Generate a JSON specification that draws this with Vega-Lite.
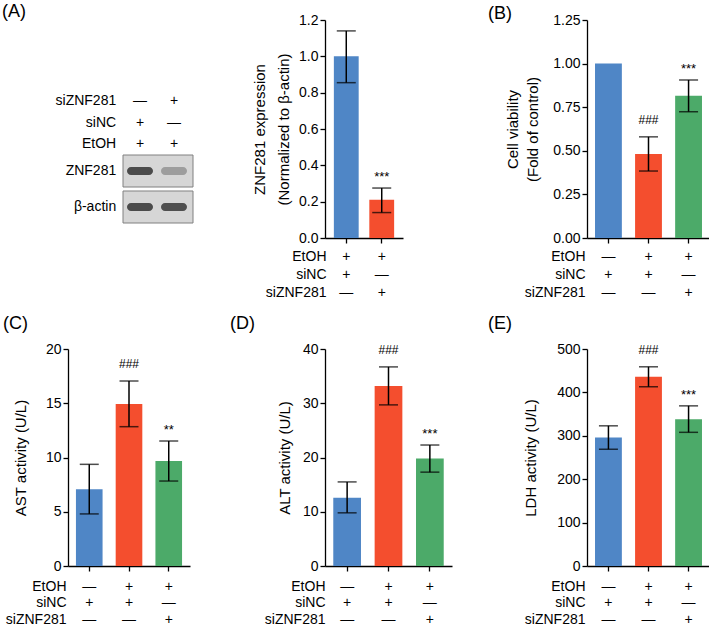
{
  "$schema": "https://vega.github.io/schema/vega-lite/v6.json",
  "padding": {"left": 2, "top": 3, "right": 0, "bottom": 0},
  "columns": 3,
  "align": "each",
  "spacing": {"row": 16, "column": 36},
  "datasets": {
    "blotHeader": [
      {"factor": "siZNF281", "lane": 1, "sym": "—"},
      {"factor": "siZNF281", "lane": 2, "sym": "+"},
      {"factor": "siNC", "lane": 1, "sym": "+"},
      {"factor": "siNC", "lane": 2, "sym": "—"},
      {"factor": "EtOH", "lane": 1, "sym": "+"},
      {"factor": "EtOH", "lane": 2, "sym": "+"}
    ],
    "blotFactors": [{"factor": "siZNF281"}, {"factor": "siNC"}, {"factor": "EtOH"}],
    "blotProteins": [{"protein": "ZNF281"}, {"protein": "β-actin"}],
    "blotBands": [
      {"protein": "ZNF281", "lane": 1, "intensity": 1.0},
      {"protein": "ZNF281", "lane": 2, "intensity": 0.35},
      {"protein": "β-actin", "lane": 1, "intensity": 1.0},
      {"protein": "β-actin", "lane": 2, "intensity": 0.97}
    ],
    "A": [
      {"treatment": "+|+|—", "mean": 1.0, "lo": 0.855, "hi": 1.14, "sig": ""},
      {"treatment": "+|—|+", "mean": 0.21, "lo": 0.14, "hi": 0.275, "sig": "***"}
    ],
    "B": [
      {"treatment": "—|+|—", "mean": 1.0, "lo": null, "hi": null, "sig": ""},
      {"treatment": "+|+|—", "mean": 0.482, "lo": 0.384, "hi": 0.58, "sig": "###"},
      {"treatment": "+|—|+", "mean": 0.816, "lo": 0.724, "hi": 0.906, "sig": "***"}
    ],
    "C": [
      {"treatment": "—|+|—", "mean": 7.07, "lo": 4.8, "hi": 9.37, "sig": ""},
      {"treatment": "+|+|—", "mean": 14.93, "lo": 12.84, "hi": 17.05, "sig": "###"},
      {"treatment": "+|—|+", "mean": 9.68, "lo": 7.83, "hi": 11.52, "sig": "**"}
    ],
    "D": [
      {"treatment": "—|+|—", "mean": 12.6, "lo": 9.8, "hi": 15.5, "sig": ""},
      {"treatment": "+|+|—", "mean": 33.2, "lo": 29.7, "hi": 36.7, "sig": "###"},
      {"treatment": "+|—|+", "mean": 19.8, "lo": 17.3, "hi": 22.3, "sig": "***"}
    ],
    "E": [
      {"treatment": "—|+|—", "mean": 296, "lo": 269, "hi": 323, "sig": ""},
      {"treatment": "+|+|—", "mean": 436, "lo": 413, "hi": 459, "sig": "###"},
      {"treatment": "+|—|+", "mean": 338, "lo": 308, "hi": 369, "sig": "***"}
    ]
  },
  "concat": [
    {
      "width": 125,
      "height": 218,
      "title": {"text": "(A)", "anchor": "start", "frame": "group", "dx": -66, "offset": -15, "baseline": "alphabetic", "fontSize": 18, "fontWeight": "normal"},
      "layer": [
        {
          "data": {"name": "blotHeader"},
          "mark": {"type": "text", "fontSize": 14, "color": "black"},
          "encoding": {
            "x": {"field": "lane", "type": "quantitative", "scale": {"domain": [-1.118, 2.559], "nice": false, "zero": false}, "axis": null},
            "y": {"field": "factor", "type": "nominal", "scale": {"type": "point", "domain": ["siZNF281", "siNC", "EtOH"], "range": [81, 124], "padding": 0}, "axis": null},
            "text": {"field": "sym"}
          }
        },
        {
          "data": {"name": "blotFactors"},
          "mark": {"type": "text", "fontSize": 14, "color": "black", "align": "right"},
          "encoding": {
            "x": {"datum": 0.3, "type": "quantitative"},
            "y": {"field": "factor", "type": "nominal", "scale": {"type": "point", "domain": ["siZNF281", "siNC", "EtOH"], "range": [81, 124], "padding": 0}, "axis": null},
            "text": {"field": "factor"}
          }
        },
        {
          "data": {"name": "blotProteins"},
          "mark": {"type": "rect", "fill": "#d6d6d6", "stroke": "#808080", "strokeWidth": 1},
          "encoding": {
            "x": {"datum": 0.5, "type": "quantitative"},
            "x2": {"datum": 2.559},
            "y": {"field": "protein", "type": "nominal", "scale": {"type": "band", "domain": ["ZNF281", "β-actin"], "range": [135, 203], "paddingInner": 0.111, "paddingOuter": 0}, "axis": null}
          }
        },
        {
          "data": {"name": "blotProteins"},
          "mark": {"type": "text", "fontSize": 14, "color": "black", "align": "right"},
          "encoding": {
            "x": {"datum": 0.3, "type": "quantitative"},
            "y": {"field": "protein", "type": "nominal", "scale": {"type": "band", "domain": ["ZNF281", "β-actin"], "range": [135, 203], "paddingInner": 0.111, "paddingOuter": 0}, "axis": null},
            "text": {"field": "protein"}
          }
        },
        {
          "data": {"name": "blotBands"},
          "mark": {"type": "tick", "orient": "horizontal", "size": 26, "thickness": 8, "cornerRadius": 4},
          "encoding": {
            "x": {"field": "lane", "type": "quantitative"},
            "y": {"field": "protein", "type": "nominal", "scale": {"type": "band", "domain": ["ZNF281", "β-actin"], "range": [135, 203], "paddingInner": 0.111, "paddingOuter": 0}, "axis": null},
            "color": {"field": "intensity", "type": "quantitative", "scale": {"domain": [0, 1], "range": ["#cfcfcf", "#101010"]}, "legend": null}
          }
        }
      ],
      "resolve": {"scale": {"y": "independent"}}
    },
    {
      "width": 78,
      "height": 218,
      "data": {"name": "A"},
      "encoding": {
        "x": {"field": "treatment", "type": "nominal", "sort": null,
          "scale": {"paddingInner": 0.3, "paddingOuter": 0.25},
          "axis": {"labelExpr": "split(datum.value, '|')", "labelAngle": 0, "labelLineHeight": 18, "labelPadding": 6,
            "title": ["EtOH", "siNC", "siZNF281"], "titleFontSize": 14, "titleLineHeight": 18, "titleAlign": "right", "titleBaseline": "top", "titleAngle": 0, "titleX": 1, "titleY": 11}}
      },
      "layer": [
        {
          "mark": {"type": "bar"},
          "encoding": {
            "y": {"field": "mean", "type": "quantitative", "scale": {"domain": [0, 1.2], "nice": false},
              "axis": {"values": [0, 0.2, 0.4, 0.6, 0.8, 1.0, 1.2], "format": ".1f", "labelOverlap": false, "labelSeparation": 0, "title": ["ZNF281 expression", "(Normalized to β-actin)"], "titleLineHeight": 24, "titlePadding": 7}},
            "color": {"field": "treatment", "type": "nominal", "scale": {"domain": ["+|+|—", "+|—|+"], "range": ["#4f86c6", "#f44e2e"]}, "legend": null}
          }
        },
        {"mark": {"type": "rule", "color": "black", "strokeWidth": 1.5}, "encoding": {"y": {"field": "lo", "type": "quantitative", "axis": {"values": [0, 0.2, 0.4, 0.6, 0.8, 1.0, 1.2], "labelOverlap": false}}, "y2": {"field": "hi"}}},
        {"mark": {"type": "tick", "color": "black", "size": 19, "thickness": 1.5}, "encoding": {"y": {"field": "lo", "type": "quantitative", "axis": {"values": [0, 0.2, 0.4, 0.6, 0.8, 1.0, 1.2], "labelOverlap": false}}}},
        {"mark": {"type": "tick", "color": "black", "size": 19, "thickness": 1.5}, "encoding": {"y": {"field": "hi", "type": "quantitative", "axis": {"values": [0, 0.2, 0.4, 0.6, 0.8, 1.0, 1.2], "labelOverlap": false}}}},
        {"transform": [{"filter": "indexof(datum.sig, '*') >= 0"}], "mark": {"type": "text", "fontSize": 13, "baseline": "alphabetic", "dy": -7, "color": "black"}, "encoding": {"y": {"field": "hi", "type": "quantitative", "axis": {"values": [0, 0.2, 0.4, 0.6, 0.8, 1.0, 1.2], "labelOverlap": false}}, "text": {"field": "sig"}}},
        {"transform": [{"filter": "indexof(datum.sig, '#') >= 0"}], "mark": {"type": "text", "fontSize": 12, "baseline": "alphabetic", "dy": -13, "color": "black"}, "encoding": {"y": {"field": "hi", "type": "quantitative", "axis": {"values": [0, 0.2, 0.4, 0.6, 0.8, 1.0, 1.2], "labelOverlap": false}}, "text": {"field": "sig"}}}
      ]
    },
    {
      "width": 123,
      "height": 218,
      "data": {"name": "B"},
      "title": {"text": "(B)", "anchor": "start", "frame": "group", "dx": -99, "offset": -24, "baseline": "alphabetic", "fontSize": 18, "fontWeight": "normal"},
      "encoding": {
        "x": {"field": "treatment", "type": "nominal", "sort": null,
          "scale": {"paddingInner": 0.33, "paddingOuter": 0.2},
          "axis": {"labelExpr": "split(datum.value, '|')", "labelAngle": 0, "labelLineHeight": 18, "labelPadding": 6,
            "title": ["EtOH", "siNC", "siZNF281"], "titleFontSize": 14, "titleLineHeight": 18, "titleAlign": "right", "titleBaseline": "top", "titleAngle": 0, "titleX": -2, "titleY": 11}}
      },
      "layer": [
        {
          "mark": {"type": "bar"},
          "encoding": {
            "y": {"field": "mean", "type": "quantitative", "scale": {"domain": [0, 1.25], "nice": false},
              "axis": {"values": [0, 0.25, 0.5, 0.75, 1.0, 1.25], "format": ".2f", "labelOverlap": false, "title": ["Cell viability", "(Fold of control)"], "titleLineHeight": 20, "titlePadding": 12}},
            "color": {"field": "treatment", "type": "nominal", "scale": {"domain": ["—|+|—", "+|+|—", "+|—|+"], "range": ["#4f86c6", "#f44e2e", "#4caa69"]}, "legend": null}
          }
        },
        {"mark": {"type": "rule", "color": "black", "strokeWidth": 1.5}, "encoding": {"y": {"field": "lo", "type": "quantitative"}, "y2": {"field": "hi"}}},
        {"mark": {"type": "tick", "color": "black", "size": 19, "thickness": 1.5}, "encoding": {"y": {"field": "lo", "type": "quantitative"}}},
        {"mark": {"type": "tick", "color": "black", "size": 19, "thickness": 1.5}, "encoding": {"y": {"field": "hi", "type": "quantitative"}}},
        {"transform": [{"filter": "indexof(datum.sig, '*') >= 0"}], "mark": {"type": "text", "fontSize": 13, "baseline": "alphabetic", "dy": -7, "color": "black"}, "encoding": {"y": {"field": "hi", "type": "quantitative"}, "text": {"field": "sig"}}},
        {"transform": [{"filter": "indexof(datum.sig, '#') >= 0"}], "mark": {"type": "text", "fontSize": 12, "baseline": "alphabetic", "dy": -13, "color": "black"}, "encoding": {"y": {"field": "hi", "type": "quantitative"}, "text": {"field": "sig"}}}
      ]
    },
    {
      "width": 122,
      "height": 217,
      "data": {"name": "C"},
      "title": {"text": "(C)", "anchor": "start", "frame": "group", "dx": -65, "offset": -5, "baseline": "alphabetic", "fontSize": 18, "fontWeight": "normal"},
      "encoding": {
        "x": {"field": "treatment", "type": "nominal", "sort": null,
          "scale": {"paddingInner": 0.33, "paddingOuter": 0.2},
          "axis": {"labelExpr": "split(datum.value, '|')", "labelAngle": 0, "labelLineHeight": 16.5, "labelPadding": 8,
            "title": ["EtOH", "siNC", "siZNF281"], "titleFontSize": 14, "titleLineHeight": 16.5, "titleAlign": "right", "titleBaseline": "top", "titleAngle": 0, "titleX": -2, "titleY": 13}}
      },
      "layer": [
        {
          "mark": {"type": "bar"},
          "encoding": {
            "y": {"field": "mean", "type": "quantitative", "scale": {"domain": [0, 20], "nice": false},
              "axis": {"values": [0, 5, 10, 15, 20], "labelOverlap": false, "title": "AST activity (U/L)", "titlePadding": 17}},
            "color": {"field": "treatment", "type": "nominal", "scale": {"domain": ["—|+|—", "+|+|—", "+|—|+"], "range": ["#4f86c6", "#f44e2e", "#4caa69"]}, "legend": null}
          }
        },
        {"mark": {"type": "rule", "color": "black", "strokeWidth": 1.5}, "encoding": {"y": {"field": "lo", "type": "quantitative"}, "y2": {"field": "hi"}}},
        {"mark": {"type": "tick", "color": "black", "size": 19, "thickness": 1.5}, "encoding": {"y": {"field": "lo", "type": "quantitative"}}},
        {"mark": {"type": "tick", "color": "black", "size": 19, "thickness": 1.5}, "encoding": {"y": {"field": "hi", "type": "quantitative"}}},
        {"transform": [{"filter": "indexof(datum.sig, '*') >= 0"}], "mark": {"type": "text", "fontSize": 13, "baseline": "alphabetic", "dy": -7, "color": "black"}, "encoding": {"y": {"field": "hi", "type": "quantitative"}, "text": {"field": "sig"}}},
        {"transform": [{"filter": "indexof(datum.sig, '#') >= 0"}], "mark": {"type": "text", "fontSize": 12, "baseline": "alphabetic", "dy": -13, "color": "black"}, "encoding": {"y": {"field": "hi", "type": "quantitative"}, "text": {"field": "sig"}}}
      ]
    },
    {
      "width": 127,
      "height": 217,
      "data": {"name": "D"},
      "title": {"text": "(D)", "anchor": "start", "frame": "group", "dx": -95, "offset": -5, "baseline": "alphabetic", "fontSize": 18, "fontWeight": "normal"},
      "encoding": {
        "x": {"field": "treatment", "type": "nominal", "sort": null,
          "scale": {"paddingInner": 0.33, "paddingOuter": 0.2},
          "axis": {"labelExpr": "split(datum.value, '|')", "labelAngle": 0, "labelLineHeight": 16.5, "labelPadding": 8,
            "title": ["EtOH", "siNC", "siZNF281"], "titleFontSize": 14, "titleLineHeight": 16.5, "titleAlign": "right", "titleBaseline": "top", "titleAngle": 0, "titleX": 0, "titleY": 13}}
      },
      "layer": [
        {
          "mark": {"type": "bar"},
          "encoding": {
            "y": {"field": "mean", "type": "quantitative", "scale": {"domain": [0, 40], "nice": false},
              "axis": {"values": [0, 10, 20, 30, 40], "labelOverlap": false, "title": "ALT activity (U/L)", "titlePadding": 10}},
            "color": {"field": "treatment", "type": "nominal", "scale": {"domain": ["—|+|—", "+|+|—", "+|—|+"], "range": ["#4f86c6", "#f44e2e", "#4caa69"]}, "legend": null}
          }
        },
        {"mark": {"type": "rule", "color": "black", "strokeWidth": 1.5}, "encoding": {"y": {"field": "lo", "type": "quantitative"}, "y2": {"field": "hi"}}},
        {"mark": {"type": "tick", "color": "black", "size": 19, "thickness": 1.5}, "encoding": {"y": {"field": "lo", "type": "quantitative"}}},
        {"mark": {"type": "tick", "color": "black", "size": 19, "thickness": 1.5}, "encoding": {"y": {"field": "hi", "type": "quantitative"}}},
        {"transform": [{"filter": "indexof(datum.sig, '*') >= 0"}], "mark": {"type": "text", "fontSize": 13, "baseline": "alphabetic", "dy": -7, "color": "black"}, "encoding": {"y": {"field": "hi", "type": "quantitative"}, "text": {"field": "sig"}}},
        {"transform": [{"filter": "indexof(datum.sig, '#') >= 0"}], "mark": {"type": "text", "fontSize": 12, "baseline": "alphabetic", "dy": -13, "color": "black"}, "encoding": {"y": {"field": "hi", "type": "quantitative"}, "text": {"field": "sig"}}}
      ]
    },
    {
      "width": 123,
      "height": 217,
      "data": {"name": "E"},
      "title": {"text": "(E)", "anchor": "start", "frame": "group", "dx": -99, "offset": -5, "baseline": "alphabetic", "fontSize": 18, "fontWeight": "normal"},
      "encoding": {
        "x": {"field": "treatment", "type": "nominal", "sort": null,
          "scale": {"paddingInner": 0.33, "paddingOuter": 0.2},
          "axis": {"labelExpr": "split(datum.value, '|')", "labelAngle": 0, "labelLineHeight": 16.5, "labelPadding": 8,
            "title": ["EtOH", "siNC", "siZNF281"], "titleFontSize": 14, "titleLineHeight": 16.5, "titleAlign": "right", "titleBaseline": "top", "titleAngle": 0, "titleX": -2, "titleY": 13}}
      },
      "layer": [
        {
          "mark": {"type": "bar"},
          "encoding": {
            "y": {"field": "mean", "type": "quantitative", "scale": {"domain": [0, 500], "nice": false},
              "axis": {"values": [0, 100, 200, 300, 400, 500], "labelOverlap": false, "title": "LDH activity (U/L)", "titlePadding": 18}},
            "color": {"field": "treatment", "type": "nominal", "scale": {"domain": ["—|+|—", "+|+|—", "+|—|+"], "range": ["#4f86c6", "#f44e2e", "#4caa69"]}, "legend": null}
          }
        },
        {"mark": {"type": "rule", "color": "black", "strokeWidth": 1.5}, "encoding": {"y": {"field": "lo", "type": "quantitative"}, "y2": {"field": "hi"}}},
        {"mark": {"type": "tick", "color": "black", "size": 19, "thickness": 1.5}, "encoding": {"y": {"field": "lo", "type": "quantitative"}}},
        {"mark": {"type": "tick", "color": "black", "size": 19, "thickness": 1.5}, "encoding": {"y": {"field": "hi", "type": "quantitative"}}},
        {"transform": [{"filter": "indexof(datum.sig, '*') >= 0"}], "mark": {"type": "text", "fontSize": 13, "baseline": "alphabetic", "dy": -7, "color": "black"}, "encoding": {"y": {"field": "hi", "type": "quantitative"}, "text": {"field": "sig"}}},
        {"transform": [{"filter": "indexof(datum.sig, '#') >= 0"}], "mark": {"type": "text", "fontSize": 12, "baseline": "alphabetic", "dy": -13, "color": "black"}, "encoding": {"y": {"field": "hi", "type": "quantitative"}, "text": {"field": "sig"}}}
      ]
    }
  ],
  "config": {
    "font": "Liberation Sans",
    "view": {"stroke": null},
    "axis": {
      "grid": false,
      "domainColor": "black",
      "domainWidth": 1.3,
      "tickColor": "black",
      "tickWidth": 1.3,
      "tickSize": 5,
      "labelColor": "black",
      "labelFontSize": 14,
      "labelPadding": 2,
      "titleColor": "black",
      "titleFontSize": 15,
      "titleFontWeight": "normal"
    },
    "axisY": {"labelOverlap": false},
    "title": {"color": "black", "fontWeight": "normal"}
  }
}
